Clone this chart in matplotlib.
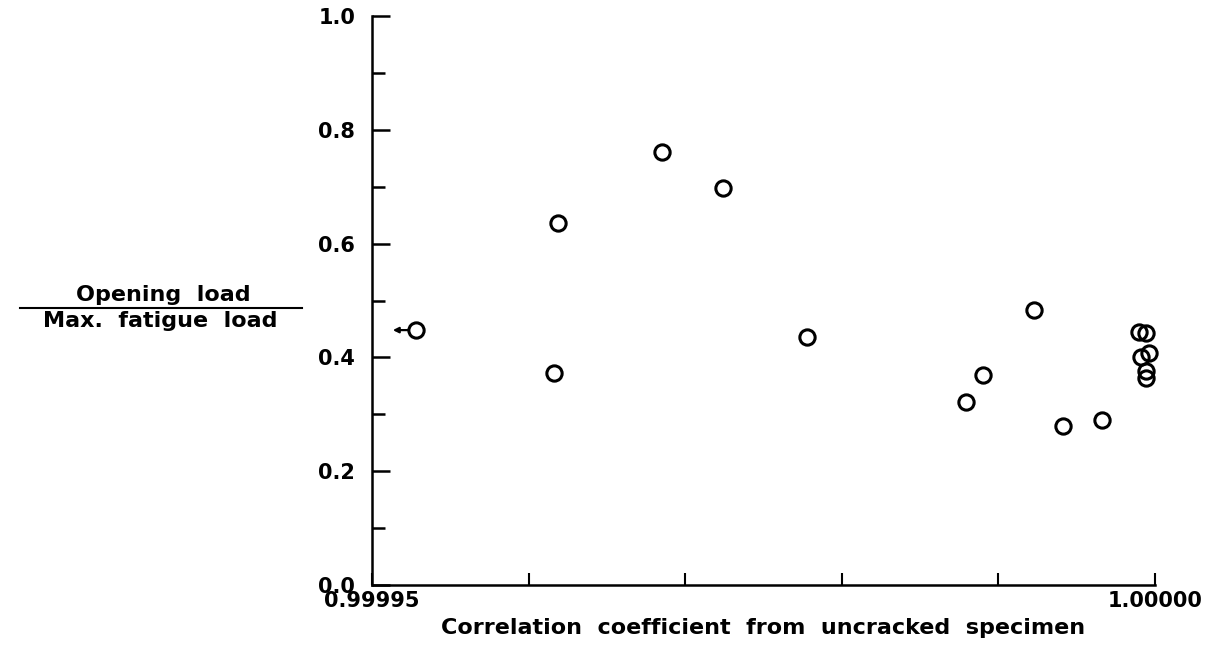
import numpy as np
import matplotlib
matplotlib.use('Agg')
import matplotlib.pyplot as plt
from matplotlib.ticker import MultipleLocator

plt.rcParams['font.family'] = 'DejaVu Sans'
plt.rcParams['font.weight'] = 'bold'

# correlation coefficient of the uncracked specimen vs. opening load ratio
corr_coeff = [0.9999528, 0.9999619, 0.9999616, 0.9999685, 0.9999724,
              0.9999778, 0.9999923, 0.9999890, 0.9999879, 0.9999941,
              0.9999966, 0.9999990, 0.9999994, 0.9999996, 0.9999991,
              0.9999994, 0.9999994]
load_ratio = [0.448, 0.636, 0.373, 0.761, 0.698,
              0.436, 0.483, 0.369, 0.322, 0.279,
              0.290, 0.445, 0.443, 0.408, 0.400,
              0.376, 0.364]

x_min = 0.99995
x_max = 1.00000

axis_lw = 1.8
label_size = 15
title_size = 16

fig = plt.figure(figsize=(12.05, 6.56), dpi=100)
ax = fig.add_axes([0.3087, 0.1082, 0.6498, 0.8674])

ax.plot(corr_coeff, load_ratio, linestyle='none', marker='o',
        markersize=11, markerfacecolor='none', markeredgecolor='black',
        markeredgewidth=2.2, clip_on=False)

# first point is off scale, flag it with a small arrow
ax.annotate('', xy=(corr_coeff[0] - 0.00000147, load_ratio[0]),
            xytext=(corr_coeff[0] - 0.0000005, load_ratio[0]),
            arrowprops=dict(arrowstyle='-|>', color='black', lw=1.6,
                            mutation_scale=8, shrinkA=0, shrinkB=0))

ax.set_xlim(x_min, x_max)
ax.set_ylim(0, 1.0)

for side in ['top', 'right']:
    ax.spines[side].set_visible(False)
for side in ['left', 'bottom']:
    ax.spines[side].set_linewidth(axis_lw)

ax.yaxis.set_minor_locator(MultipleLocator(0.1))
ax.set_yticks(np.arange(0, 1.01, 0.2))
ax.set_yticklabels(['{:.1f}'.format(v) for v in np.arange(0, 1.01, 0.2)])
ax.tick_params(axis='y', which='major', direction='in', length=13,
               width=axis_lw, labelsize=label_size, pad=12)
ax.tick_params(axis='y', which='minor', direction='in', length=9,
               width=axis_lw)

ax.set_xticks(np.linspace(x_min, x_max, 6))
ax.set_xticklabels(['0.99995', '', '', '', '', '1.00000'])
ax.tick_params(axis='x', which='major', direction='in', length=9,
               width=1.5, labelsize=label_size, pad=4)
for lbl in ax.get_xticklabels() + ax.get_yticklabels():
    lbl.set_fontweight('bold')

ax.set_xlabel('Correlation  coefficient  from  uncracked  specimen',
              fontsize=title_size, fontweight='bold', labelpad=5)

# y label drawn as a fraction
fig.text(163 / 1205, 1 - 295 / 656, 'Opening  load', ha='center',
         va='center', fontsize=title_size, fontweight='bold')
fig.text(160 / 1205, 1 - 321 / 656, 'Max.  fatigue  load', ha='center',
         va='center', fontsize=title_size, fontweight='bold')
fig.add_artist(plt.Line2D([20 / 1205, 302 / 1205],
                          [1 - 308 / 656, 1 - 308 / 656],
                          color='black', lw=1.5))

fig.savefig('out.png', dpi=100)
